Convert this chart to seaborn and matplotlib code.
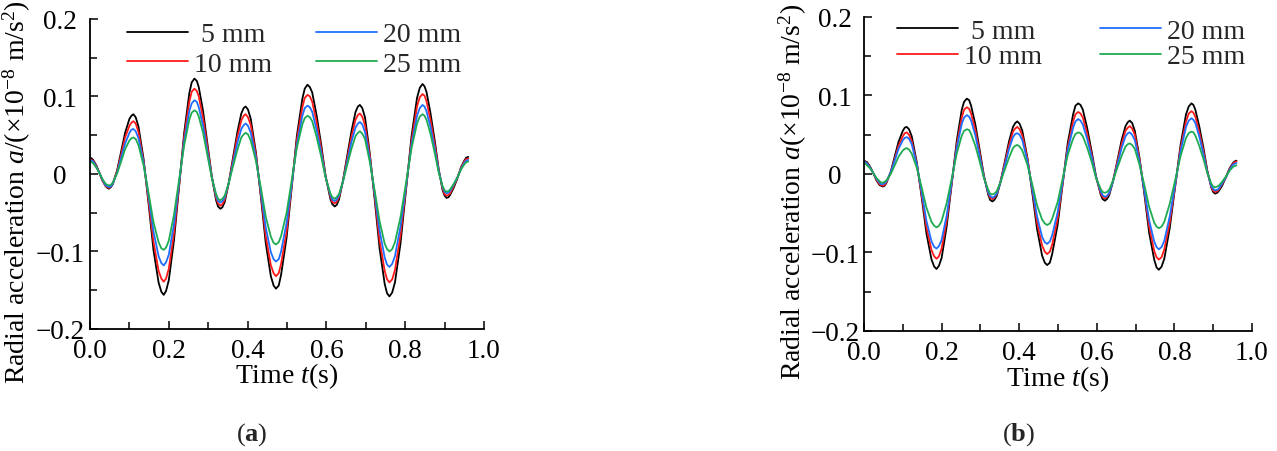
import matplotlib
matplotlib.use("Agg")
import matplotlib.pyplot as plt
import seaborn as sns
from pandas import DataFrame, concat
from matplotlib.ticker import MultipleLocator

sns.set_theme(style="ticks")
plt.rcParams['font.family'] = ['Liberation Serif', 'DejaVu Serif']
plt.rcParams['mathtext.fontset'] = 'custom'
plt.rcParams['mathtext.rm'] = 'Liberation Serif'
plt.rcParams['mathtext.it'] = 'Liberation Serif:italic'
plt.rcParams['mathtext.bf'] = 'Liberation Serif:bold'
plt.rcParams['axes.unicode_minus'] = True

# Sample times (s) (extrema and points between them)
time = [
    0.000, 0.004, 0.008, 0.016, 0.024, 0.032, 0.040, 0.044,
    0.048, 0.053, 0.058, 0.069, 0.079, 0.089, 0.100, 0.105,
    0.110, 0.116, 0.123, 0.136, 0.149, 0.161, 0.174, 0.181,
    0.187, 0.193, 0.200, 0.213, 0.226, 0.239, 0.252, 0.258,
    0.265, 0.271, 0.276, 0.287, 0.298, 0.309, 0.320, 0.325,
    0.331, 0.336, 0.342, 0.352, 0.363, 0.374, 0.384, 0.390,
    0.395, 0.401, 0.408, 0.421, 0.434, 0.446, 0.459, 0.466,
    0.472, 0.479, 0.485, 0.499, 0.512, 0.525, 0.539, 0.545,
    0.552, 0.558, 0.564, 0.575, 0.587, 0.598, 0.610, 0.615,
    0.621, 0.626, 0.632, 0.642, 0.653, 0.664, 0.674, 0.680,
    0.685, 0.691, 0.698, 0.710, 0.723, 0.735, 0.748, 0.754,
    0.760, 0.767, 0.774, 0.788, 0.802, 0.816, 0.830, 0.837,
    0.844, 0.849, 0.854, 0.864, 0.875, 0.885, 0.895, 0.900,
    0.905, 0.910, 0.914, 0.923, 0.933, 0.942, 0.951, 0.955,
    0.960,
]

sizes = ['5 mm', '10 mm', '20 mm', '25 mm']
legend_labels = [' 5 mm', '10 mm', '20 mm', '25 mm']
colors = ['#000000', '#ff1a1a', '#1f6fff', '#1fab52']

# Panel (a)
a_5mm = [
    0.021, 0.020, 0.018, 0.011, 0.001, -0.009, -0.016, -0.018,
    -0.019, -0.017, -0.013, 0.005, 0.029, 0.053, 0.071, 0.075,
    0.077, 0.073, 0.061, 0.019, -0.040, -0.098, -0.140, -0.152,
    -0.156, -0.151, -0.137, -0.086, -0.017, 0.053, 0.104, 0.118,
    0.123, 0.120, 0.112, 0.081, 0.039, -0.003, -0.034, -0.042,
    -0.045, -0.043, -0.036, -0.012, 0.021, 0.054, 0.078, 0.085,
    0.087, 0.083, 0.071, 0.028, -0.031, -0.089, -0.132, -0.144,
    -0.148, -0.144, -0.130, -0.082, -0.017, 0.049, 0.097, 0.110,
    0.115, 0.112, 0.105, 0.076, 0.037, -0.003, -0.032, -0.039,
    -0.042, -0.040, -0.033, -0.009, 0.024, 0.056, 0.080, 0.087,
    0.089, 0.085, 0.073, 0.027, -0.035, -0.096, -0.142, -0.154,
    -0.158, -0.153, -0.140, -0.090, -0.021, 0.048, 0.098, 0.111,
    0.116, 0.113, 0.106, 0.079, 0.043, 0.006, -0.021, -0.028,
    -0.031, -0.030, -0.027, -0.018, -0.005, 0.009, 0.018, 0.021,
    0.022,
]
a_10mm = [
    0.019, 0.018, 0.017, 0.010, 0.001, -0.009, -0.016, -0.017,
    -0.018, -0.016, -0.012, 0.004, 0.025, 0.047, 0.062, 0.066,
    0.068, 0.065, 0.054, 0.016, -0.036, -0.087, -0.125, -0.135,
    -0.139, -0.135, -0.122, -0.077, -0.015, 0.048, 0.093, 0.106,
    0.110, 0.107, 0.100, 0.072, 0.035, -0.003, -0.031, -0.038,
    -0.041, -0.039, -0.033, -0.012, 0.018, 0.048, 0.069, 0.075,
    0.077, 0.073, 0.063, 0.025, -0.028, -0.080, -0.118, -0.128,
    -0.132, -0.128, -0.116, -0.074, -0.015, 0.044, 0.086, 0.098,
    0.102, 0.100, 0.093, 0.067, 0.032, -0.003, -0.029, -0.036,
    -0.038, -0.036, -0.030, -0.009, 0.020, 0.049, 0.070, 0.076,
    0.078, 0.074, 0.063, 0.024, -0.031, -0.086, -0.125, -0.136,
    -0.140, -0.136, -0.124, -0.079, -0.019, 0.042, 0.087, 0.099,
    0.103, 0.101, 0.094, 0.070, 0.038, 0.005, -0.019, -0.026,
    -0.028, -0.027, -0.025, -0.016, -0.004, 0.008, 0.017, 0.019,
    0.020,
]
a_20mm = [
    0.018, 0.017, 0.016, 0.009, 0.001, -0.008, -0.015, -0.016,
    -0.017, -0.016, -0.012, 0.002, 0.021, 0.039, 0.053, 0.057,
    0.058, 0.055, 0.046, 0.014, -0.030, -0.074, -0.106, -0.115,
    -0.118, -0.114, -0.104, -0.065, -0.012, 0.042, 0.081, 0.091,
    0.095, 0.093, 0.086, 0.062, 0.029, -0.004, -0.028, -0.035,
    -0.037, -0.035, -0.030, -0.012, 0.014, 0.040, 0.058, 0.063,
    0.065, 0.062, 0.053, 0.021, -0.024, -0.069, -0.101, -0.110,
    -0.113, -0.110, -0.100, -0.063, -0.013, 0.038, 0.075, 0.085,
    0.088, 0.086, 0.080, 0.057, 0.027, -0.004, -0.027, -0.033,
    -0.035, -0.033, -0.028, -0.010, 0.016, 0.042, 0.060, 0.065,
    0.067, 0.064, 0.054, 0.020, -0.027, -0.073, -0.108, -0.117,
    -0.120, -0.116, -0.106, -0.068, -0.016, 0.037, 0.075, 0.085,
    0.089, 0.087, 0.081, 0.061, 0.032, 0.004, -0.017, -0.023,
    -0.025, -0.024, -0.022, -0.014, -0.004, 0.007, 0.015, 0.017,
    0.018,
]
a_25mm = [
    0.016, 0.015, 0.014, 0.008, 0.001, -0.007, -0.013, -0.014,
    -0.015, -0.014, -0.011, 0.001, 0.016, 0.032, 0.043, 0.046,
    0.047, 0.045, 0.037, 0.011, -0.026, -0.062, -0.088, -0.096,
    -0.098, -0.095, -0.086, -0.053, -0.008, 0.037, 0.070, 0.079,
    0.082, 0.080, 0.074, 0.053, 0.024, -0.005, -0.026, -0.032,
    -0.034, -0.032, -0.028, -0.012, 0.010, 0.031, 0.047, 0.051,
    0.053, 0.051, 0.043, 0.017, -0.019, -0.055, -0.081, -0.089,
    -0.091, -0.088, -0.080, -0.050, -0.008, 0.034, 0.064, 0.072,
    0.075, 0.073, 0.068, 0.048, 0.022, -0.005, -0.025, -0.030,
    -0.032, -0.030, -0.026, -0.010, 0.012, 0.033, 0.049, 0.053,
    0.055, 0.052, 0.045, 0.016, -0.023, -0.061, -0.090, -0.097,
    -0.100, -0.097, -0.088, -0.056, -0.012, 0.033, 0.065, 0.074,
    0.077, 0.075, 0.070, 0.052, 0.027, 0.002, -0.016, -0.021,
    -0.023, -0.022, -0.020, -0.013, -0.004, 0.006, 0.013, 0.015,
    0.016,
]

# Panel (b)
b_5mm = [
    0.017, 0.016, 0.015, 0.009, 0.001, -0.008, -0.014, -0.015,
    -0.016, -0.015, -0.011, 0.003, 0.022, 0.041, 0.055, 0.059,
    0.060, 0.057, 0.048, 0.015, -0.031, -0.076, -0.109, -0.118,
    -0.121, -0.117, -0.107, -0.067, -0.013, 0.042, 0.082, 0.092,
    0.096, 0.094, 0.087, 0.063, 0.031, -0.002, -0.026, -0.033,
    -0.035, -0.033, -0.028, -0.010, 0.016, 0.042, 0.060, 0.065,
    0.067, 0.064, 0.055, 0.021, -0.025, -0.070, -0.104, -0.113,
    -0.116, -0.113, -0.102, -0.065, -0.013, 0.039, 0.076, 0.087,
    0.090, 0.088, 0.082, 0.059, 0.028, -0.003, -0.026, -0.032,
    -0.034, -0.032, -0.027, -0.009, 0.017, 0.043, 0.061, 0.066,
    0.068, 0.065, 0.055, 0.021, -0.027, -0.075, -0.109, -0.119,
    -0.122, -0.118, -0.108, -0.069, -0.016, 0.037, 0.076, 0.086,
    0.090, 0.088, 0.082, 0.061, 0.033, 0.004, -0.017, -0.023,
    -0.025, -0.024, -0.022, -0.015, -0.004, 0.007, 0.014, 0.016,
    0.017,
]
b_10mm = [
    0.016, 0.015, 0.014, 0.008, 0.001, -0.007, -0.013, -0.014,
    -0.015, -0.014, -0.010, 0.002, 0.019, 0.036, 0.048, 0.052,
    0.053, 0.050, 0.042, 0.013, -0.028, -0.068, -0.097, -0.105,
    -0.108, -0.105, -0.095, -0.060, -0.012, 0.037, 0.072, 0.082,
    0.085, 0.083, 0.077, 0.056, 0.027, -0.003, -0.024, -0.030,
    -0.032, -0.030, -0.026, -0.009, 0.014, 0.037, 0.054, 0.058,
    0.060, 0.057, 0.049, 0.020, -0.021, -0.062, -0.091, -0.099,
    -0.102, -0.099, -0.090, -0.057, -0.012, 0.034, 0.067, 0.076,
    0.079, 0.077, 0.072, 0.052, 0.024, -0.004, -0.024, -0.029,
    -0.031, -0.029, -0.025, -0.008, 0.015, 0.038, 0.055, 0.059,
    0.061, 0.058, 0.050, 0.019, -0.024, -0.067, -0.098, -0.106,
    -0.109, -0.106, -0.096, -0.062, -0.015, 0.033, 0.067, 0.077,
    0.080, 0.078, 0.073, 0.054, 0.029, 0.003, -0.016, -0.021,
    -0.023, -0.022, -0.020, -0.013, -0.004, 0.006, 0.013, 0.015,
    0.016,
]
b_20mm = [
    0.015, 0.015, 0.013, 0.008, 0.001, -0.006, -0.011, -0.013,
    -0.013, -0.012, -0.009, 0.002, 0.017, 0.032, 0.043, 0.046,
    0.047, 0.045, 0.038, 0.012, -0.024, -0.060, -0.086, -0.093,
    -0.095, -0.092, -0.084, -0.053, -0.010, 0.033, 0.064, 0.072,
    0.075, 0.073, 0.068, 0.049, 0.023, -0.004, -0.023, -0.028,
    -0.030, -0.029, -0.025, -0.010, 0.011, 0.032, 0.047, 0.051,
    0.052, 0.050, 0.043, 0.017, -0.019, -0.054, -0.080, -0.087,
    -0.089, -0.086, -0.078, -0.049, -0.010, 0.030, 0.059, 0.067,
    0.070, 0.068, 0.063, 0.045, 0.021, -0.004, -0.022, -0.027,
    -0.029, -0.028, -0.024, -0.009, 0.012, 0.033, 0.048, 0.052,
    0.053, 0.050, 0.043, 0.016, -0.022, -0.059, -0.086, -0.093,
    -0.096, -0.093, -0.085, -0.054, -0.013, 0.029, 0.060, 0.068,
    0.071, 0.069, 0.065, 0.048, 0.025, 0.002, -0.015, -0.019,
    -0.021, -0.020, -0.019, -0.012, -0.004, 0.005, 0.012, 0.013,
    0.014,
]
b_25mm = [
    0.013, 0.013, 0.011, 0.007, 0.001, -0.005, -0.009, -0.011,
    -0.011, -0.010, -0.008, 0.000, 0.011, 0.022, 0.030, 0.032,
    0.033, 0.031, 0.026, 0.008, -0.018, -0.043, -0.061, -0.066,
    -0.068, -0.066, -0.060, -0.037, -0.006, 0.026, 0.049, 0.055,
    0.057, 0.056, 0.051, 0.036, 0.016, -0.005, -0.020, -0.025,
    -0.026, -0.025, -0.022, -0.010, 0.006, 0.021, 0.033, 0.036,
    0.037, 0.035, 0.030, 0.012, -0.014, -0.040, -0.058, -0.063,
    -0.065, -0.063, -0.057, -0.036, -0.006, 0.024, 0.045, 0.051,
    0.053, 0.052, 0.048, 0.034, 0.015, -0.005, -0.019, -0.023,
    -0.024, -0.023, -0.020, -0.008, 0.008, 0.023, 0.035, 0.038,
    0.039, 0.037, 0.032, 0.012, -0.015, -0.042, -0.062, -0.067,
    -0.069, -0.067, -0.061, -0.038, -0.008, 0.023, 0.046, 0.052,
    0.054, 0.053, 0.049, 0.036, 0.019, 0.001, -0.012, -0.016,
    -0.017, -0.016, -0.015, -0.010, -0.003, 0.004, 0.009, 0.010,
    0.011,
]

y_ticks = [-0.2, -0.1, 0.0, 0.1, 0.2]
y_tick_labels = ['\u22120.2', '\u22120.1', '0', '0.1', '0.2']
x_ticks = [0.0, 0.2, 0.4, 0.6, 0.8, 1.0]
x_tick_labels = ['0.0', '0.2', '0.4', '0.6', '0.8', '1.0']

FS = 20
TICK_FS = 19.5


def build_frame(series: list[list[float]]) -> DataFrame:
    parts = []
    for name, values in zip(sizes, series):
        parts.append(DataFrame({'time': time, 'acc': values, 'size': name}))
    return concat(parts, ignore_index=True)


def draw_panel(ax, df: DataFrame, ylabel: str, leg_anchor, leg_spacing: float,
               col_spacing: float, ylab_x: float, ytick_pad: float):
    sns.lineplot(data=df, x='time', y='acc', hue='size', hue_order=sizes,
                 palette=colors, estimator=None, linewidth=1.3, legend=False, ax=ax,
                 solid_joinstyle='round', solid_capstyle='round')
    ax.set_xlim(0, 1.0)
    ax.set_ylim(-0.2, 0.2)
    for side in ['top', 'right']:
        ax.spines[side].set_visible(False)
    for side in ['left', 'bottom']:
        ax.spines[side].set_linewidth(1.3)
        ax.spines[side].set_color('black')
    ax.set_xticks(x_ticks, x_tick_labels)
    # y tick labels are centred in a column left of the axis
    ax.set_yticks(y_ticks, y_tick_labels, ha='center')
    ax.xaxis.set_minor_locator(MultipleLocator(0.1))
    ax.yaxis.set_minor_locator(MultipleLocator(0.05))
    ax.tick_params(which='both', direction='in', width=1.1, color='black',
                   labelsize=TICK_FS, labelcolor='black')
    ax.tick_params(which='major', length=6)
    ax.tick_params(which='minor', length=5)
    ax.tick_params(axis='x', pad=6.5)
    ax.tick_params(axis='y', pad=ytick_pad)
    ax.set_xlabel(r'Time $t$(s)', fontsize=FS, color='black')
    ax.set_ylabel(ylabel, fontsize=FS, color='black')
    ax.xaxis.set_label_coords(0.5, -0.102)
    ax.yaxis.set_label_coords(ylab_x, 0.445)
    ax.legend(ax.lines[:4], legend_labels, loc='upper left', bbox_to_anchor=leg_anchor,
              ncol=2, frameon=False, fontsize=FS, handlelength=2.2, handletextpad=0.2,
              columnspacing=col_spacing, labelspacing=leg_spacing, borderpad=0,
              borderaxespad=0)
    ax.set_facecolor('white')
    ax.grid(False)
    return ax


fig = plt.figure(figsize=(12.77, 4.52), dpi=100)
fig.patch.set_facecolor('white')

ax1 = fig.add_axes([0.0705, 0.270, 0.3085, 0.686])
ax2 = fig.add_axes([0.6766, 0.2655, 0.3038, 0.6947])

draw_panel(ax1, build_frame([a_5mm, a_10mm, a_20mm, a_25mm]),
           r'Radial acceleration $a$/(×10$^{-8}$ m/s$^{2}$)', (0.094, 0.99), 0.15, 1.6,
           -0.145, 21.6)
draw_panel(ax2, build_frame([b_5mm, b_10mm, b_20mm, b_25mm]),
           r'Radial acceleration $a$(×10$^{-8}$ m/s$^{2}$)', (0.085, 0.995), 0.0, 2.1,
           -0.143, 20.9)

fig.text(252 / 1277, 1 - 435 / 452, r'($\mathbf{a}$)', fontsize=19, ha='center', va='center')
fig.text(1019 / 1277, 1 - 435 / 452, r'($\mathbf{b}$)', fontsize=19, ha='center', va='center')

fig.savefig('out.png', dpi=100, facecolor='white')
